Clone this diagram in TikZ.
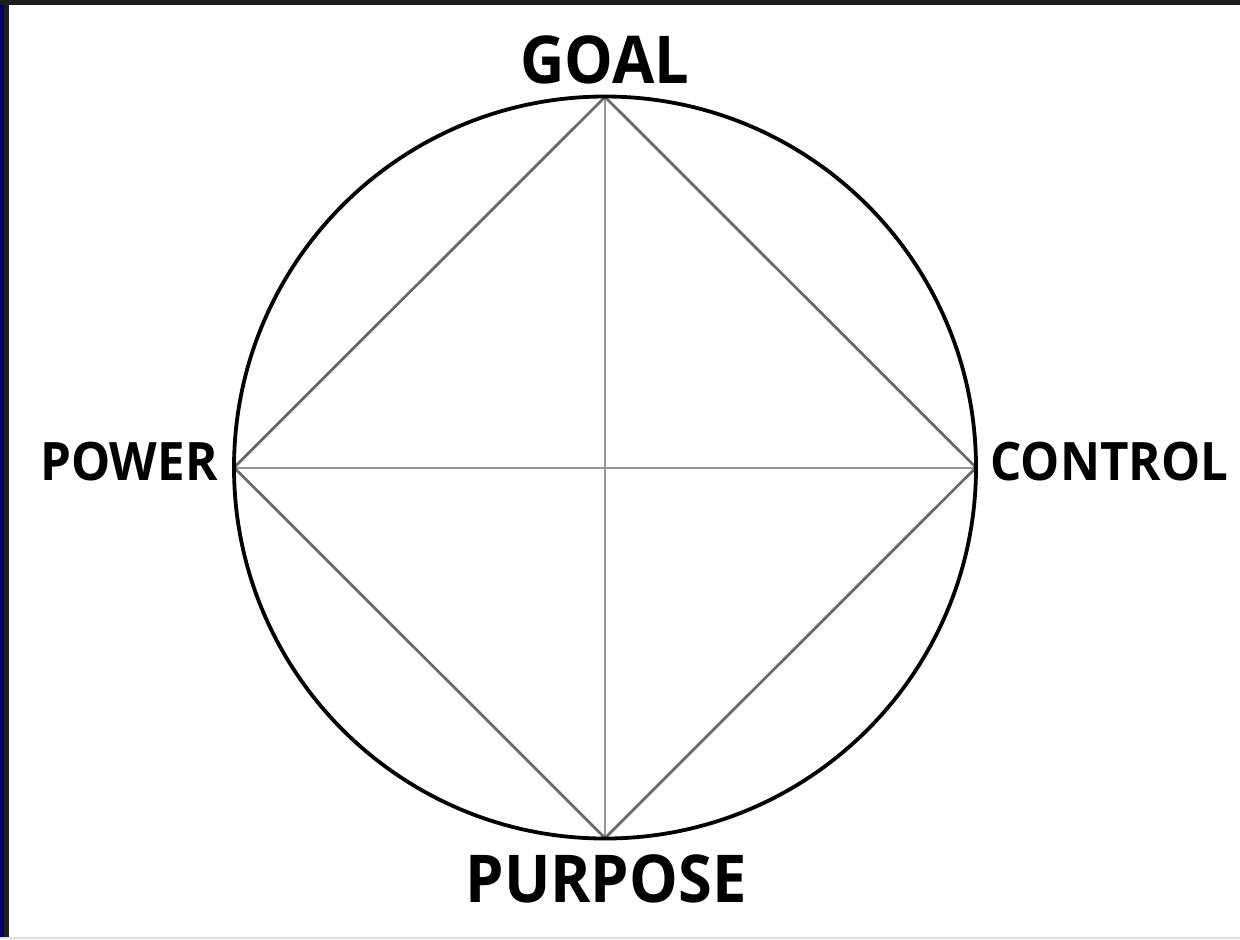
\documentclass[tikz,border=0pt]{standalone}
\usepackage{fontspec}
\setmainfont{Open Sans}[FakeStretch=0.93]
\usepackage{tikz}
\usetikzlibrary{positioning, calc}
\definecolor{frameblue}{RGB}{0,0,110}
\definecolor{framedark}{RGB}{32,28,36}
\definecolor{crossgray}{RGB}{150,150,150}
\definecolor{edgegray}{RGB}{105,105,105}

\begin{document}
\begin{tikzpicture}[x=0.5pt, y=-0.5pt,
    every node/.style={font=\bfseries, inner sep=0pt},
    biglabel/.style={font=\fontsize{33}{33}\selectfont\bfseries, anchor=base},
    sidelabel/.style={font=\fontsize{26.5}{26.5}\selectfont\bfseries, anchor=base}]
    % frame
    \fill[white] (0,0) rectangle (1240,939);
    \useasboundingbox (0,0) rectangle (1240,939);
    \fill[frameblue] (0,0) rectangle (4,939);
    \fill[framedark] (4,0) rectangle (9,939);
    \fill[framedark] (0,0) rectangle (1240,4.5);
    \fill[black!12] (0,937) rectangle (1240,939);
    % corner points
    \coordinate (centre) at (605,467.5);
    \coordinate (goal) at (605,97);
    \coordinate (purpose) at (605,838);
    \coordinate (power) at (234,467.5);
    \coordinate (control) at (976,467.5);
    % cross
    \draw[crossgray, line width=1pt] (goal) -- (purpose);
    \draw[crossgray, line width=1pt] (power) -- (control);
    % diamond
    \draw[edgegray, line width=1.4pt] (goal) -- (control) -- (purpose) -- (power) -- cycle;
    \draw[black, line width=1.9pt] (centre) circle[radius=371];
    % labels
    \node[biglabel] (goaltxt) at (605,83) {GOAL};
    \node[biglabel] (purposetxt) at (606,902) {PURPOSE};
    \node[sidelabel, anchor=base east] (powertxt) at (218,480) {POWER};
    \node[sidelabel, anchor=base west] (controltxt) at (990,480) {CONTROL};
\end{tikzpicture}
\end{document}
